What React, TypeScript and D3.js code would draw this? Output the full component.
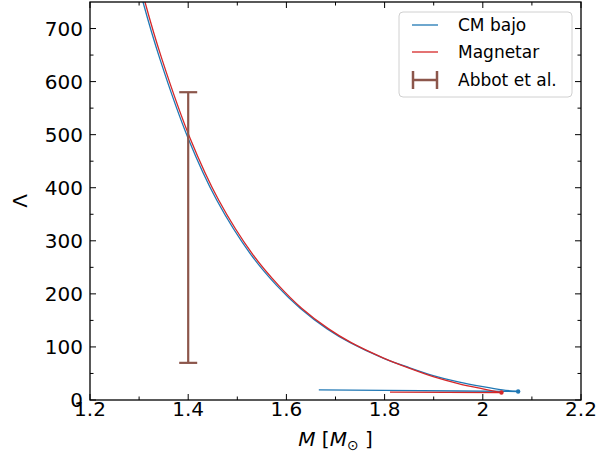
import React from 'react';
import * as d3 from 'd3';

const blueMass = [1.300, 1.308, 1.343, 1.400, 1.458, 1.527, 1.580, 1.628, 1.683, 1.730, 1.797, 1.850, 1.899, 1.950, 2.000, 2.040, 2.072];
const blueLambda = [780, 750, 641, 493, 377, 275, 216, 173, 134, 108, 79, 61, 46, 34, 25, 19, 16];
const blueBackMass = [2.072, 1.95, 1.80, 1.666];
const blueBackLambda = [16, 17, 18, 19];

const redMass = [1.304, 1.312, 1.347, 1.404, 1.462, 1.531, 1.584, 1.631, 1.686, 1.732, 1.798, 1.850, 1.899, 1.950, 2.000, 2.038];
const redLambda = [780, 750, 641, 493, 377, 275, 216, 173, 134, 108, 79, 60, 44, 31, 21, 14];
const redBackMass = [2.038, 1.811];
const redBackLambda = [14, 15];

const errMass = [1.4];
const errLow = [70];
const errHigh = [580];

const xTicks = [1.2, 1.4, 1.6, 1.8, 2.0, 2.2];
const xTickLabels = ['1.2', '1.4', '1.6', '1.8', '2', '2.2'];
const xMinor = [1.3, 1.5, 1.7, 1.9, 2.1];
const yTicks = [0, 100, 200, 300, 400, 500, 600, 700];
const yMinor = [50, 150, 250, 350, 450, 550, 650];

const legendLabels = ['CM bajo', 'Magnetar', 'Abbot et al.'];

const BLUE = '#1f77b4';
const RED = '#d62728';
const BROWN = '#8c564b';
const FONT = 'DejaVu Sans, sans-serif';

export default function App() {
  const L = 90, R = 581, T = 2, B = 400;
  const x = d3.scaleLinear().domain([1.2, 2.2]).range([L, R]);
  const y = d3.scaleLinear().domain([0, 750]).range([B, T]);

  const mk = (ms: number[], ls: number[], curve: any) =>
    d3.line<number>().x((_, i) => x(ms[i])).y((_, i) => y(ls[i])).curve(curve)(ms) || '';

  const smooth = d3.curveCatmullRom.alpha(0.5);
  const bluePath = mk(blueMass, blueLambda, smooth);
  const redPath = mk(redMass, redLambda, smooth);
  const blueBack = mk(blueBackMass, blueBackLambda, d3.curveLinear);
  const redBack = mk(redBackMass, redBackLambda, d3.curveLinear);

  const majorLen = 6, minorLen = 3.5;

  return (
    <svg width={614} height={463} style={{ position: 'absolute', left: 0, top: 0, background: '#fff' }}>
      <defs>
        <clipPath id="plot">
          <rect x={L} y={T} width={R - L} height={B - T} />
        </clipPath>
      </defs>
      <rect x={0} y={0} width={614} height={463} fill="#fff" />
      <g clipPath="url(#plot)">
        <path d={blueBack} fill="none" stroke={BLUE} strokeWidth={1.3} />
        <path d={redBack} fill="none" stroke={RED} strokeWidth={1.3} />
        <path d={bluePath} fill="none" stroke={BLUE} strokeWidth={1.3} />
        <path d={redPath} fill="none" stroke={RED} strokeWidth={1.3} />
        <circle cx={x(blueMass[blueMass.length - 1])} cy={y(blueLambda[blueLambda.length - 1])} r={2.2} fill={BLUE} />
        <circle cx={x(redMass[redMass.length - 1])} cy={y(redLambda[redLambda.length - 1])} r={2.2} fill={RED} />
        {errMass.map((m, i) => (
          <g key={i} stroke={BROWN} strokeWidth={2.2}>
            <line x1={x(m)} x2={x(m)} y1={y(errLow[i])} y2={y(errHigh[i])} />
            <line x1={x(m) - 9} x2={x(m) + 9} y1={y(errLow[i])} y2={y(errLow[i])} />
            <line x1={x(m) - 9} x2={x(m) + 9} y1={y(errHigh[i])} y2={y(errHigh[i])} />
          </g>
        ))}
      </g>

      {/* ticks */}
      <g stroke="#000" strokeWidth={1}>
        {xTicks.map((t) => (
          <g key={'xt' + t}>
            <line x1={x(t)} x2={x(t)} y1={B} y2={B - majorLen} />
            <line x1={x(t)} x2={x(t)} y1={T} y2={T + majorLen} />
          </g>
        ))}
        {xMinor.map((t) => (
          <g key={'xm' + t}>
            <line x1={x(t)} x2={x(t)} y1={B} y2={B - minorLen} />
            <line x1={x(t)} x2={x(t)} y1={T} y2={T + minorLen} />
          </g>
        ))}
        {yTicks.map((t) => (
          <g key={'yt' + t}>
            <line x1={L} x2={L + majorLen} y1={y(t)} y2={y(t)} />
            <line x1={R} x2={R - majorLen} y1={y(t)} y2={y(t)} />
          </g>
        ))}
        {yMinor.map((t) => (
          <g key={'ym' + t}>
            <line x1={L} x2={L + minorLen} y1={y(t)} y2={y(t)} />
            <line x1={R} x2={R - minorLen} y1={y(t)} y2={y(t)} />
          </g>
        ))}
      </g>
      <rect x={L} y={T} width={R - L} height={B - T} fill="none" stroke="#000" strokeWidth={1.3} />

      {/* tick labels */}
      <g fontFamily={FONT} fontSize={20} fill="#000">
        {xTicks.map((t, i) => (
          <text key={'xl' + t} x={x(t)} y={B + 16} textAnchor="middle">{xTickLabels[i]}</text>
        ))}
        {yTicks.map((t) => (
          <text key={'yl' + t} x={L - 7} y={y(t) + 7} textAnchor="end">{t}</text>
        ))}
      </g>

      {/* axis labels */}
      <text x={(L + R) / 2} y={446} textAnchor="middle" fontFamily={FONT} fontSize={20} fill="#000">
        <tspan fontStyle="italic">M</tspan>
        <tspan> [</tspan>
        <tspan fontStyle="italic">M</tspan>
        <tspan fontSize={14} dy={4}>⊙</tspan>
        <tspan dy={-4}> ]</tspan>
      </text>
      <text transform={`translate(27, ${(T + B) / 2}) rotate(-90)`} textAnchor="middle" fontFamily={FONT} fontSize={20} fill="#000">Λ</text>

      {/* legend */}
      <g fontFamily={FONT} fontSize={17} fill="#000">
        <rect x={399} y={12} width={173} height={85} rx={4} fill="#fff" fillOpacity={0.85} stroke="#d0d0d0" strokeWidth={1} />
        <line x1={412} x2={438} y1={25} y2={25} stroke={BLUE} strokeWidth={1.3} />
        <line x1={412} x2={438} y1={52} y2={52} stroke={RED} strokeWidth={1.3} />
        <g stroke={BROWN} strokeWidth={2.5}>
          <line x1={413} x2={437} y1={80} y2={80} />
          <line x1={413} x2={413} y1={71} y2={89} />
          <line x1={437} x2={437} y1={71} y2={89} />
        </g>
        <text x={458} y={31}>{legendLabels[0]}</text>
        <text x={458} y={58}>{legendLabels[1]}</text>
        <text x={458} y={86}>{legendLabels[2]}</text>
      </g>
    </svg>
  );
}
